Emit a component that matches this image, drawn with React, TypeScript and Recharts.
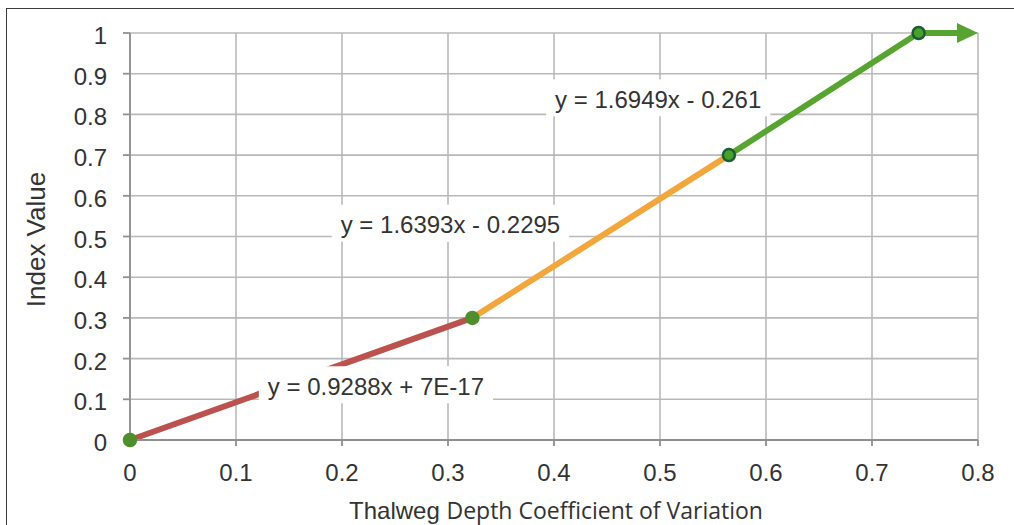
import React from "react";
import { ComposedChart, Line, Scatter, Cell, XAxis, YAxis, CartesianGrid, ReferenceDot, Label } from "recharts";

// axis ticks
const xTicks = [0, 0.1, 0.2, 0.3, 0.4, 0.5, 0.6, 0.7, 0.8];
const yTicks = [0, 0.1, 0.2, 0.3, 0.4, 0.5, 0.6, 0.7, 0.8, 0.9, 1];

// piecewise segments of the index curve
const redSegment = [{ x: 0, y: 0 }, { x: 0.323, y: 0.3 }];
const orangeSegment = [{ x: 0.323, y: 0.3 }, { x: 0.565, y: 0.7 }];
const greenSegment = [{ x: 0.565, y: 0.7 }, { x: 0.744, y: 1 }];
const arrowSegment = [{ x: 0.744, y: 1 }, { x: 0.8, y: 1 }];
const breakpoints = [{ x: 0, y: 0 }, { x: 0.323, y: 0.3 }, { x: 0.565, y: 0.7 }, { x: 0.744, y: 1 }];

// fitted equations, anchored at their centre
const equations = [
  { text: "y = 0.9288x + 7E-17", x: 0.232, y: 0.132 },
  { text: "y = 1.6393x - 0.2295", x: 0.3023, y: 0.529 },
  { text: "y = 1.6949x - 0.261", x: 0.4983, y: 0.837 },
];

const FONT = "'Liberation Sans', Arial, Helvetica, sans-serif";
const RED = "#bb524e";
const ORANGE = "#f3a63b";
const GREEN = "#57a530";
const pointStyles = [
  { fill: "#4f8f2b", stroke: "#4f8f2b" },
  { fill: "#4f8f2b", stroke: "#4f8f2b" },
  { fill: "#4aa02a", stroke: "#1c5e34" },
  { fill: "#4aa02a", stroke: "#1c5e34" },
];

let ctx: CanvasRenderingContext2D | null = null;
function textWidth(t: string, font: string) {
  if (!ctx) ctx = document.createElement("canvas").getContext("2d");
  if (!ctx) return t.length * 11;
  ctx.font = font;
  return ctx.measureText(t).width;
}

function EquationLabel({ cx = 0, cy = 0, text }: { cx?: number; cy?: number; text: string }) {
  const w = textWidth(text, `24px ${FONT}`) + 18;
  return (
    <g>
      <rect x={cx - w / 2} y={cy - 20} width={w} height={37} fill="#fff" />
      <text x={cx} y={cy + 8.6} textAnchor="middle" fontSize={24} fontFamily={FONT} fill="#333">
        {text}
      </text>
    </g>
  );
}

function XTick({ x, y, payload }: any) {
  return (
    <text x={x} y={y + 33} textAnchor="middle" fontSize={24} fontFamily={FONT} fill="#333">
      {String(payload.value)}
    </text>
  );
}

function YTick({ x, y, payload }: any) {
  return (
    <text x={x} y={y + 11} textAnchor="end" fontSize={24} fontFamily={FONT} fill="#333">
      {String(payload.value)}
    </text>
  );
}

function ArrowHead(props: any) {
  const { cx, cy, index } = props;
  if (index !== 1) return <g key={`a-${index}`} />;
  return (
    <polygon key={`a-${index}`} points={`${cx},${cy} ${cx - 21},${cy - 10} ${cx - 21},${cy + 10}`} fill={GREEN} />
  );
}

export default function App() {
  return (
    <div style={{ position: "absolute", left: 0, top: 0, width: 1014, height: 525, overflow: "hidden", background: "#fff" }}>
      <div
        style={{
          position: "absolute",
          left: 6,
          top: 8,
          width: 1100,
          height: 600,
          borderLeft: "1.5px solid #3a3a3a",
          borderTop: "1.5px solid #3a3a3a",
        }}
      />
      <div style={{ position: "absolute", left: 0, top: 0 }}>
        <ComposedChart width={1014} height={525} margin={{ top: 33, right: 36, bottom: 0, left: 0 }}>
          <CartesianGrid stroke="#b9b9b9" strokeWidth={1.6} horizontalValues={yTicks} verticalValues={xTicks} />
          <XAxis
            type="number"
            dataKey="x"
            domain={[0, 0.8]}
            ticks={xTicks}
            interval={0}
            height={85}
            stroke="#909090"
            strokeWidth={1.8}
            tickSize={6}
            tickMargin={2}
            tick={<XTick />}
          >
            <Label
              content={(p: any) => {
                const vb = p.viewBox;
                return (
                  <text x={vb.x + vb.width / 2 + 2} y={vb.y + 79} textAnchor="middle" fill="#333">
                    <tspan fontFamily={FONT} fontSize={24}>Thalweg </tspan>
                    <tspan fontFamily="'Open Sans', sans-serif" fontSize={23}>Depth Coefficient of Variation</tspan>
                  </text>
                );
              }}
            />
          </XAxis>
          <YAxis
            type="number"
            dataKey="y"
            domain={[0, 1]}
            ticks={yTicks}
            interval={0}
            width={130}
            stroke="#909090"
            strokeWidth={1.8}
            tickSize={7}
            tickMargin={16}
            tick={<YTick />}
          >
            <Label
              content={(p: any) => {
                const vb = p.viewBox;
                const cy = vb.y + vb.height / 2 + 3;
                return (
                  <text
                    x={45}
                    y={cy}
                    transform={`rotate(-90 45 ${cy})`}
                    textAnchor="middle"
                    fontFamily={FONT}
                    fontSize={26}
                    fill="#333"
                  >
                    Index Value
                  </text>
                );
              }}
            />
          </YAxis>
          <Scatter
            data={breakpoints}
            dataKey="y"
            isAnimationActive={false}
            shape={(s: any) => <circle cx={s.cx} cy={s.cy} r={6} fill={s.fill} stroke={s.stroke} strokeWidth={2.5} />}
          >
            {breakpoints.map((_, i) => (
              <Cell key={i} fill={pointStyles[i].fill} stroke={pointStyles[i].stroke} />
            ))}
          </Scatter>
          <Line data={redSegment} dataKey="y" stroke={RED} strokeWidth={6} dot={false} activeDot={false} isAnimationActive={false} />
          <Line data={orangeSegment} dataKey="y" stroke={ORANGE} strokeWidth={6} dot={false} activeDot={false} isAnimationActive={false} />
          <Line data={greenSegment} dataKey="y" stroke={GREEN} strokeWidth={6} dot={false} activeDot={false} isAnimationActive={false} />
          <Line
            data={arrowSegment}
            dataKey="y"
            stroke={GREEN}
            strokeWidth={6}
            strokeDasharray="44 200"
            dot={ArrowHead}
            activeDot={false}
            isAnimationActive={false}
          />
          {equations.map((e) => (
            <ReferenceDot
              key={e.text}
              x={e.x}
              y={e.y}
              r={0}
              isFront
              shape={(s: any) => <EquationLabel cx={s.cx} cy={s.cy} text={e.text} />}
            />
          ))}
        </ComposedChart>
      </div>
    </div>
  );
}
